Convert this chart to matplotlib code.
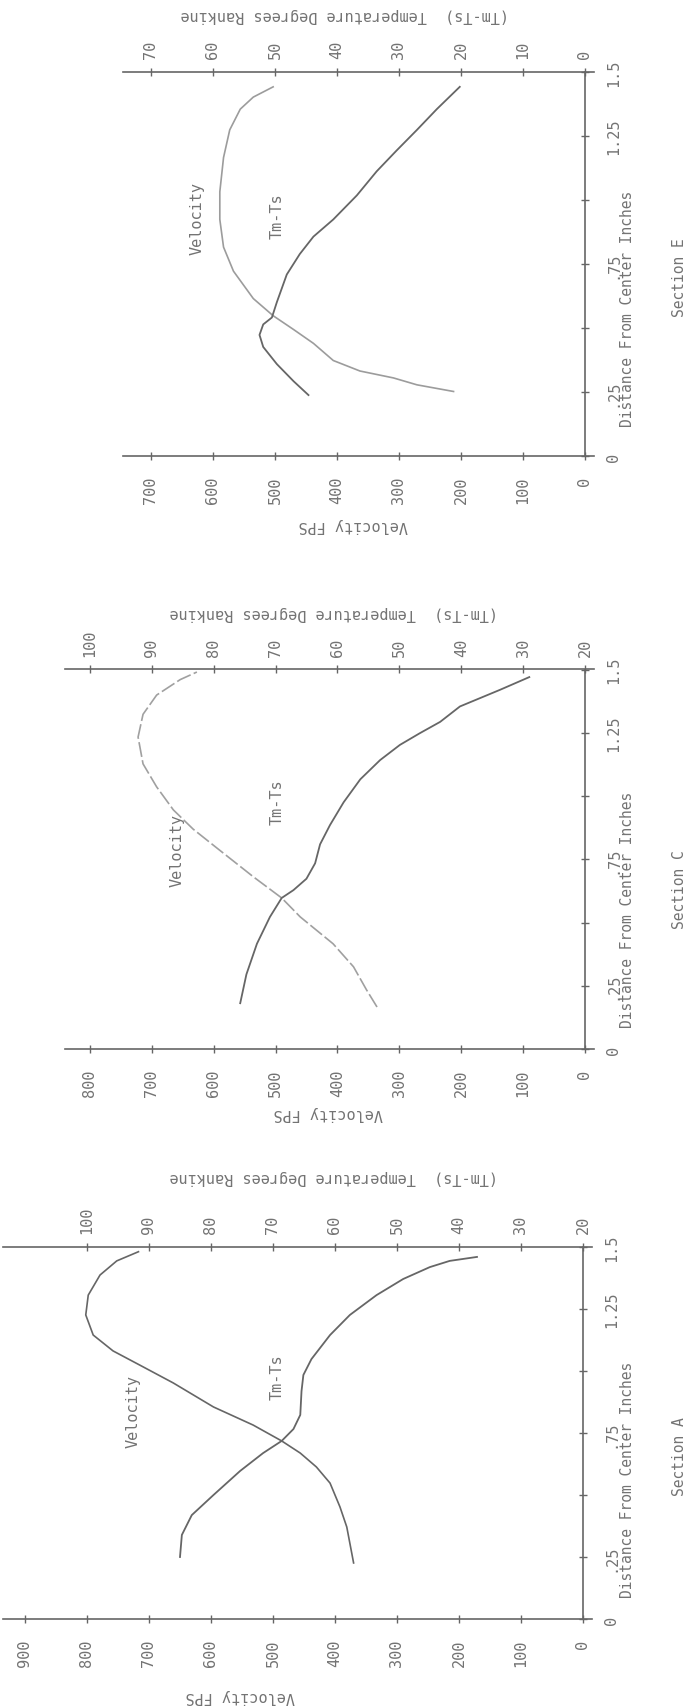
import matplotlib
matplotlib.use('Agg')
import matplotlib.pyplot as plt

W, H, DPI = 695, 1708, 100

# ---------------- data ----------------
# Section A
a_vel_dist = [0.226, 0.371, 0.452, 0.548, 0.613, 0.669, 0.718, 0.782, 0.855, 0.952, 1.024, 1.081, 1.145, 1.226, 1.306, 1.387, 1.444, 1.481]
a_vel_fps = [370, 381, 392, 408, 430, 456, 486, 532, 596, 661, 715, 758, 790, 802, 798, 779, 752, 717]
a_tmp_dist = [0.25, 0.339, 0.419, 0.5, 0.597, 0.669, 0.718, 0.766, 0.823, 0.919, 0.984, 1.048, 1.145, 1.226, 1.306, 1.371, 1.419, 1.444, 1.46]
a_tmp_deg = [85.0, 84.7, 83.1, 79.6, 75.3, 71.6, 68.6, 66.7, 65.6, 65.4, 65.1, 63.8, 60.8, 57.6, 53.3, 49.0, 44.7, 41.5, 37.1]
a_vel_ticks = [0, 100, 200, 300, 400, 500, 600, 700, 800, 900]
a_tmp_ticks = [20, 30, 40, 50, 60, 70, 80, 90, 100]

# Section C
c_vel_dist = [0.166, 0.234, 0.325, 0.416, 0.522, 0.597, 0.681, 0.795, 0.869, 0.945, 1.036, 1.127, 1.233, 1.323, 1.399, 1.46, 1.49]
c_vel_fps = [336, 353, 374, 407, 460, 490, 536, 595, 633, 665, 692, 714, 722, 714, 692, 654, 627]
c_tmp_dist = [0.181, 0.295, 0.416, 0.522, 0.597, 0.628, 0.673, 0.734, 0.809, 0.885, 0.975, 1.066, 1.142, 1.202, 1.248, 1.293, 1.354, 1.42, 1.47]
c_tmp_deg = [75.7, 74.7, 73.0, 70.9, 69.0, 67.1, 65.0, 63.6, 62.8, 61.2, 59.0, 56.3, 53.1, 49.9, 46.7, 43.4, 40.2, 33.7, 29.0]
c_vel_ticks = [0, 100, 200, 300, 400, 500, 600, 700, 800]
c_tmp_ticks = [20, 30, 40, 50, 60, 70, 80, 90, 100]

# Section E
e_vel_dist = [0.252, 0.278, 0.305, 0.332, 0.373, 0.44, 0.494, 0.548, 0.615, 0.722, 0.816, 0.924, 1.032, 1.166, 1.274, 1.355, 1.402, 1.442]
e_vel_fps = [212, 271, 309, 363, 406, 438, 470, 503, 535, 567, 583, 589, 589, 583, 573, 556, 535, 503]
e_tmp_dist = [0.238, 0.292, 0.359, 0.426, 0.473, 0.514, 0.541, 0.601, 0.709, 0.789, 0.857, 0.924, 1.018, 1.112, 1.193, 1.274, 1.355, 1.442]
e_tmp_deg = [44.6, 47.0, 49.7, 51.9, 52.5, 51.9, 50.5, 49.7, 48.1, 46.0, 43.8, 40.6, 36.8, 33.6, 30.4, 27.1, 23.9, 20.2]
e_vel_ticks = [0, 100, 200, 300, 400, 500, 600, 700]
e_tmp_ticks = [0, 10, 20, 30, 40, 50, 60, 70]

dist_ticks = [0, 0.25, 0.5, 0.75, 1.0, 1.25, 1.5]
dist_labels = ['0', '.25', '', '.75', '', '1.25', '1.5']

sections = ['Section A', 'Section C', 'Section E']

# ---------------- style ----------------
FONT = 'DejaVu Sans Mono'
TC = '#737373'
LC = '#666666'
FS = 11

plt.rcParams['font.family'] = [FONT]

fig = plt.figure(figsize=(W / DPI, H / DPI), dpi=DPI)
fig.patch.set_facecolor('white')


def px2fig(x, y):
    return x / W, 1 - y / H


def panel(v0px, pxv, d0px, pxd, vleft, tmp_offset, vel_d, vel_v, tmp_d, tmp_t,
          vel_ticks, tmp_ticks, vel_color, vel_ls, title, vlab, tlab, dlab_y, sec_y,
          vel_txt, tm_txt):
    vright = -15
    left = v0px - pxv * vleft
    right = v0px - pxv * vright
    top = d0px - pxd * 1.5
    bottom = d0px
    ax = fig.add_axes([left / W, 1 - bottom / H, (right - left) / W, (bottom - top) / H])
    ax.set_xlim(vleft, vright)
    ax.set_ylim(0, 1.5)
    ax.patch.set_alpha(0)
    for s in ['left', 'top']:
        ax.spines[s].set_visible(False)
    ax.spines['right'].set_position(('data', 0))
    for s in ['bottom', 'right']:
        ax.spines[s].set_color(LC)
        ax.spines[s].set_linewidth(1.2)

    ax.set_xticks(vel_ticks)
    ax.set_xticklabels([str(t) for t in vel_ticks], rotation=90)
    ax.yaxis.tick_right()
    ax.set_yticks(dist_ticks)
    ax.set_yticklabels(dist_labels, rotation=90, va='center')
    ax.tick_params(axis='x', direction='inout', length=6, width=1, color=LC,
                   labelcolor=TC, labelsize=FS, pad=11)
    ax.tick_params(axis='y', direction='inout', length=6, width=1, color=LC,
                   labelcolor=TC, labelsize=FS, pad=12)

    conv = (lambda v: v / 10 + tmp_offset, lambda t: (t - tmp_offset) * 10)
    sec = ax.secondary_xaxis('top', functions=conv)
    sec.set_xticks(tmp_ticks)
    sec.set_xticklabels([str(t) for t in tmp_ticks], rotation=90)
    sec.tick_params(direction='inout', length=6, width=1, color=LC,
                    labelcolor=TC, labelsize=FS, pad=7)
    sec.spines['top'].set_color(LC)
    sec.spines['top'].set_linewidth(1.2)

    ax.plot(vel_v, vel_d, color=vel_color, lw=1.2, linestyle=vel_ls)
    ax.plot([(t - tmp_offset) * 10 for t in tmp_t], tmp_d, color=LC, lw=1.3)

    ax.text(vel_txt[0], vel_txt[1], 'Velocity', rotation=90, ha='center', va='center',
            color=TC, fontsize=FS)
    ax.text(tm_txt[0], tm_txt[1], 'Tm-Ts', rotation=90, ha='center', va='center',
            color=TC, fontsize=FS)

    fx, fy = px2fig(*vlab)
    fig.text(fx, fy, 'Velocity FPS', rotation=180, ha='center', va='center',
             color=TC, fontsize=FS)
    fx, fy = px2fig(*tlab)
    fig.text(fx, fy, '(Tm-Ts)  Temperature Degrees Rankine', rotation=180,
             ha='center', va='center', color=TC, fontsize=FS)
    fx, fy = px2fig(628, dlab_y)
    fig.text(fx, fy, 'Distance From Center Inches', rotation=90, ha='center',
             va='center', color=TC, fontsize=FS - 0.5)
    fx, fy = px2fig(680, sec_y)
    fig.text(fx, fy, title, rotation=90, ha='center', va='center',
             color=TC, fontsize=FS - 0.5)
    return ax


# Section A (bottom)
panel(583, 0.62, 1620, 248, 935, 20, a_vel_dist, a_vel_fps, a_tmp_dist, a_tmp_deg,
      a_vel_ticks, a_tmp_ticks, LC, '-', sections[0], (240, 1697), (334, 1177), 1480, 1457,
      (726, 0.84), (494, 0.98))
# Section C (middle)
panel(585, 0.619, 1050, 253, 840, 20, c_vel_dist, c_vel_fps, c_tmp_dist, c_tmp_deg,
      c_vel_ticks, c_tmp_ticks, '#a0a0a0', (0, (9, 2)), sections[1], (328, 1113), (334, 614),
      910, 890, (659, 0.79), (498, 0.98))
# Section E (top)
panel(585, 0.62, 457, 256, 745, 0, e_vel_dist, e_vel_fps, e_tmp_dist, e_tmp_deg,
      e_vel_ticks, e_tmp_ticks, '#9c9c9c', '-', sections[2], (353, 526), (345, 16), 309, 278,
      (626, 0.93), (497, 0.94))

fig.savefig('out.png', dpi=DPI, facecolor='white')
